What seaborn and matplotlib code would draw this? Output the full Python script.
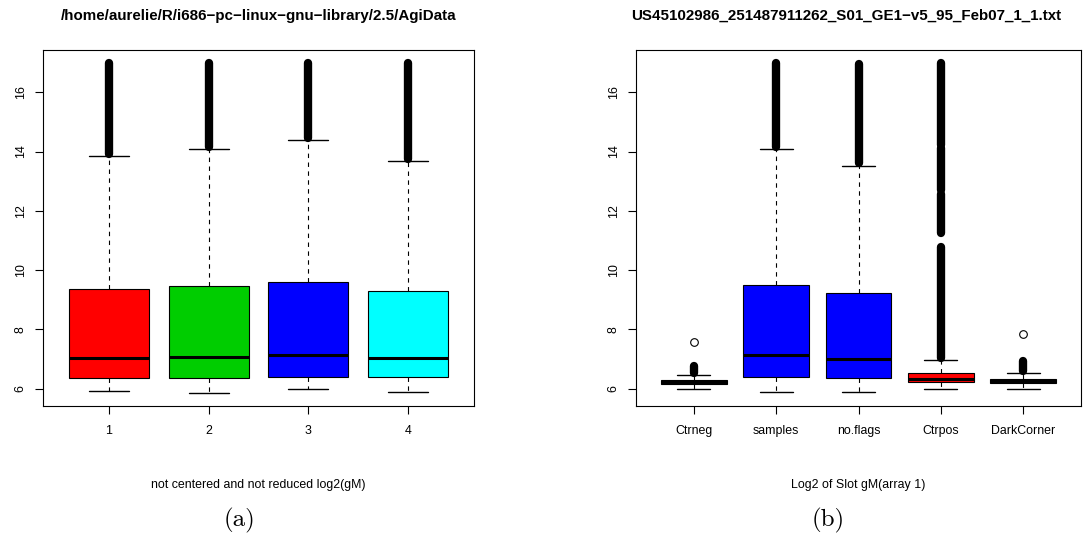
import numpy as np
import pandas as pd
import matplotlib
matplotlib.use('Agg')
import matplotlib.pyplot as plt
import seaborn as sns

# left panel: five-number summaries of the 4 arrays
arrays = ['1', '2', '3', '4']
arr_low = [5.93, 5.86, 6.00, 5.89]
arr_q1 = [6.34, 6.37, 6.38, 6.38]
arr_med = [7.03, 7.08, 7.13, 7.02]
arr_q3 = [9.35, 9.46, 9.58, 9.30]
arr_high = [13.85, 14.09, 14.40, 13.68]
arr_colors = ['#FF0000', '#00CD00', '#0000FF', '#00FFFF']
# outliers are so dense they form solid runs (from, to)
arr_out_runs = [[(13.92, 17.0)], [(14.15, 17.0)], [(14.46, 17.0)], [(13.74, 17.0)]]
arr_out_single = [[], [], [], []]

# right panel: spot types
slots = ['Ctrneg', 'samples', 'no.flags', 'Ctrpos', 'DarkCorner']
slot_low = [6.00, 5.87, 5.87, 6.00, 6.00]
slot_q1 = [6.15, 6.38, 6.34, 6.22, 6.18]
slot_med = [6.21, 7.14, 7.01, 6.31, 6.25]
slot_q3 = [6.29, 9.48, 9.23, 6.52, 6.33]
slot_high = [6.46, 14.09, 13.53, 6.96, 6.54]
slot_colors = ['#0b3d0b', '#0000FF', '#0000FF', '#FF0000', '#3d0000']
slot_out_runs = [[(6.52, 6.76)], [(14.15, 17.0)], [(13.6, 16.95)],
                 [(7.02, 10.78), (11.24, 12.58), (12.70, 14.12), (14.23, 17.0)],
                 [(6.6, 6.92)]]
slot_out_single = [[7.58], [], [], [], [7.83]]

YMIN, YMAX = 5.41, 17.43


def long_table(names, lo, q1, med, q3, hi):
    rows = []
    for i, n in enumerate(names):
        for v in (lo[i], q1[i], med[i], q3[i], hi[i]):
            rows.append({'group': n, 'value': v})
    return pd.DataFrame(rows)


def draw_panel(ax, df, names, colors, runs, singles, title, xlabel, title_x=0.5):
    n = len(names)
    sns.boxplot(data=df, x='group', y='value', hue='group', order=names, hue_order=names,
                palette=colors, saturation=1, width=0.8, whis=(0, 100), showfliers=False,
                linecolor='black', linewidth=0.8, legend=False, ax=ax,
                medianprops=dict(linewidth=2.2, color='black'),
                whiskerprops=dict(linestyle=(0, (4, 4)), linewidth=0.8),
                capprops=dict(linewidth=1.0))
    for i, rr in enumerate(runs):
        for lo, hi in rr:
            ax.plot([i, i], [lo, hi], color='black', lw=6, solid_capstyle='round', zorder=4)
    for i, s in enumerate(singles):
        if s:
            ax.plot([i] * len(s), s, 'o', mfc='none', mec='black', ms=5.5, mew=0.8, zorder=4)

    ax.set_xlim(-0.5 - 0.04 * n, n - 0.5 + 0.04 * n)
    ax.set_ylim(YMIN, YMAX)
    ax.set_yticks([6, 8, 10, 12, 14, 16])
    ax.set_yticklabels(['6', '8', '10', '12', '14', '16'], rotation=90, va='center')
    ax.tick_params(axis='both', direction='out', length=5.8, width=0.8, labelsize=8.9,
                   color='black', labelcolor='black', bottom=True, left=True)
    ax.tick_params(axis='x', pad=8)
    ax.tick_params(axis='y', pad=6)
    for sp in ax.spines.values():
        sp.set_visible(True)
        sp.set_color('black')
        sp.set_linewidth(0.8)
    ax.set_ylabel('')
    ax.set_xlabel(xlabel, fontsize=8.9, color='black')
    ax.xaxis.set_label_coords(0.5, -0.205)
    ax.set_title(title, fontsize=10.9, fontweight='bold', color='black',
                 x=title_x, y=1.096, va='center', pad=0)


sns.set_style('white')
plt.rcParams['font.family'] = ['Liberation Sans', 'DejaVu Sans']
plt.rcParams['text.color'] = 'black'
plt.rcParams['axes.labelcolor'] = 'black'

fig = plt.figure(figsize=(10.84, 5.41), dpi=100)
ax1 = fig.add_axes([43 / 1084, 1 - 406 / 541, 431 / 1084, 356 / 541])
ax2 = fig.add_axes([636 / 1084, 1 - 406 / 541, 445 / 1084, 356 / 541])

draw_panel(ax1, long_table(arrays, arr_low, arr_q1, arr_med, arr_q3, arr_high),
           arrays, arr_colors, arr_out_runs, arr_out_single,
           '/home/aurelie/R/i686\u2212pc\u2212linux\u2212gnu\u2212library/2.5/AgiData',
           'not centered and not reduced log2(gM)')
draw_panel(ax2, long_table(slots, slot_low, slot_q1, slot_med, slot_q3, slot_high),
           slots, slot_colors, slot_out_runs, slot_out_single,
           'US45102986_251487911262_S01_GE1\u2212v5_95_Feb07_1_1.txt',
           'Log2 of Slot gM(array 1)', title_x=0.472)

fig.text(240 / 1084, 1 - 520 / 541, '(a)', ha='center', va='center', fontsize=18,
         family='cmr10', color='black')
fig.text(828 / 1084, 1 - 520 / 541, '(b)', ha='center', va='center', fontsize=18,
         family='cmr10', color='black')

fig.savefig('out.png', dpi=100)
